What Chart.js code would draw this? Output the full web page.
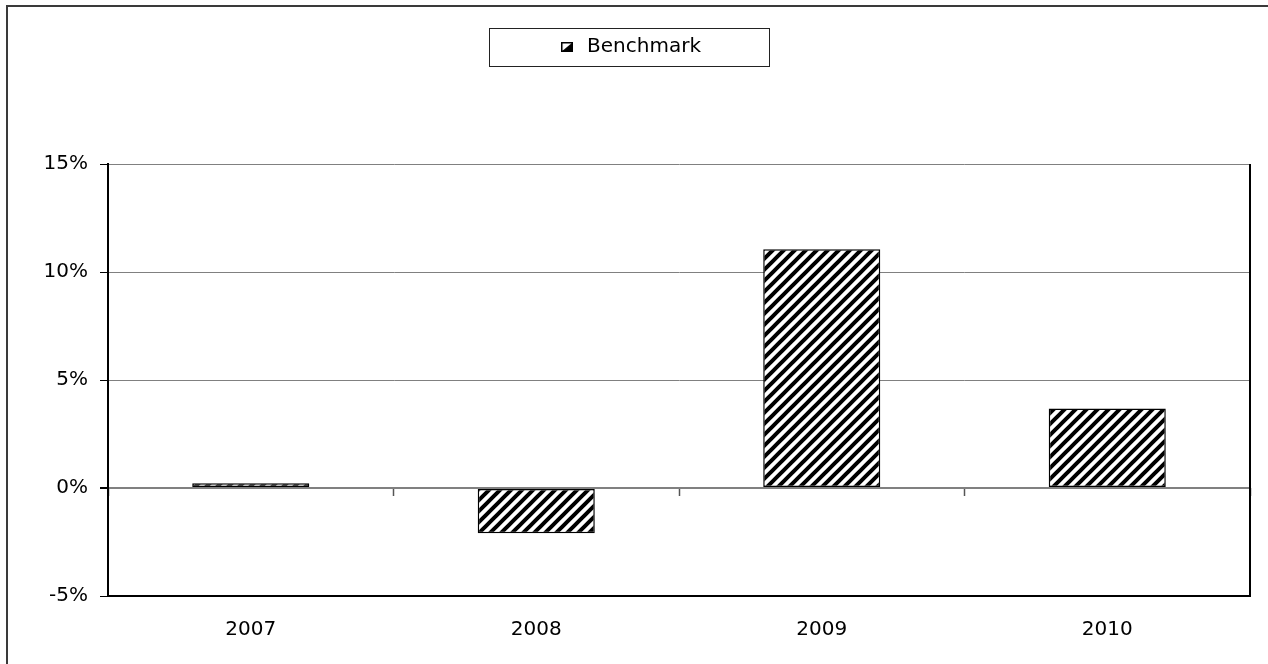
<!DOCTYPE html>
<html>
<head>
<meta charset="utf-8">
<title>Benchmark</title>
<script src="https://cdn.jsdelivr.net/npm/chart.js@4.4.1/dist/chart.umd.min.js"></script>
<style>
  html, body { margin: 0; padding: 0; background: #fff; }
  #wrap { width: 1268px; height: 664px; position: relative; }
</style>
</head>
<body>
<div id="wrap"><canvas id="benchChart"></canvas></div>
<script>
// data
var years = ['2007', '2008', '2009', '2010'];
var benchmark = [0.22, -2.1, 11.05, 3.68];
var yTicks = [-5, 0, 5, 10, 15];

// hatch fill, wide upward diagonal
function makeHatch() {
    var s = 11;
    var c = document.createElement('canvas');
    c.width = s; c.height = s;
    var g = c.getContext('2d');
    g.fillStyle = '#fff';
    g.fillRect(0, 0, s, s);
    g.strokeStyle = '#000';
    g.lineWidth = 4;
    g.beginPath();
    g.moveTo(-s, s); g.lineTo(s, -s);
    g.moveTo(0, s * 2); g.lineTo(s * 2, 0);
    g.moveTo(-1, s + 1); g.lineTo(s + 1, -1);
    g.stroke();
    return g.createPattern(c, 'repeat');
}

// little legend swatch: box with the lower right half black
function makeSwatch() {
    var c = document.createElement('canvas');
    c.width = 12; c.height = 10;
    var g = c.getContext('2d');
    g.fillStyle = '#fff';
    g.fillRect(0, 0, 12, 10);
    g.fillStyle = '#000';
    g.beginPath();
    g.moveTo(0, 10); g.lineTo(12, 0); g.lineTo(12, 10); g.closePath();
    g.fill();
    g.strokeStyle = '#000';
    g.lineWidth = 1.5;
    g.strokeRect(0.75, 0.75, 10.5, 8.5);
    return c;
}

var swatch = makeSwatch();

// extra room under the legend, frame round the legend, plot frame and outer frame
var framePlugin = {
    id: 'framePlugin',
    beforeInit: function(chart) {
        var fit = chart.legend.fit;
        chart.legend.fit = function() {
            fit.call(this);
            this.height += 97;
        };
    },
    afterDraw: function(chart) {
        var ctx = chart.ctx;
        var a = chart.chartArea;
        ctx.save();
        // outer border of the picture
        ctx.strokeStyle = '#3a3a3a';
        ctx.lineWidth = 2;
        ctx.beginPath();
        ctx.moveTo(7, chart.height);
        ctx.lineTo(7, 6);
        ctx.lineTo(chart.width, 6);
        ctx.stroke();
        // plot frame
        ctx.strokeStyle = '#000';
        ctx.lineWidth = 2;
        ctx.beginPath();
        ctx.moveTo(a.left, a.top);
        ctx.lineTo(a.left, a.bottom);
        ctx.lineTo(a.right, a.bottom);
        ctx.lineTo(a.right, a.top);
        ctx.stroke();
        // legend box
        var hb = chart.legend.legendHitBoxes[0];
        if (hb) {
            var cx = hb.left + hb.width / 2;
            var cy = hb.top + hb.height / 2;
            ctx.strokeStyle = '#222';
            ctx.lineWidth = 1;
            ctx.strokeRect(Math.round(cx - 140) + 0.5, Math.round(cy - 19) + 0.5, 280, 38);
        }
        ctx.restore();
    }
};

var font = { family: '"DejaVu Sans", "Liberation Sans", Arial, sans-serif', size: 20 };

const ctx = document.getElementById('benchChart').getContext('2d');
new Chart(ctx, {
    type: 'bar',
    data: {
        labels: years,
        datasets: [{
            label: 'Benchmark',
            data: benchmark,
            backgroundColor: makeHatch(),
            borderColor: '#000',
            borderWidth: 1.5,
            borderSkipped: false,
            categoryPercentage: 1,
            barPercentage: 0.41,
            pointStyle: swatch
        }]
    },
    options: {
        responsive: true,
        maintainAspectRatio: false,
        animation: false,
        layout: { padding: { top: 31, left: 8, right: 18, bottom: 8 } },
        plugins: {
            tooltip: { enabled: false },
            legend: {
                position: 'top',
                labels: {
                    usePointStyle: true,
                    color: '#000',
                    font: font,
                    padding: 6
                }
            }
        },
        scales: {
            x: {
                grid: { display: false },
                border: { display: true, color: '#000', width: 2 },
                ticks: { color: '#000', font: font, padding: 14, maxRotation: 0 }
            },
            x2: {
                type: 'category',
                labels: years,
                position: { y: 0 },
                offset: true,
                grid: {
                    offset: true,
                    drawOnChartArea: false,
                    tickLength: 8,
                    tickColor: '#555',
                    tickWidth: 1.5
                },
                ticks: { display: false },
                border: { display: false }
            },
            y: {
                min: -5,
                max: 15,
                afterFit: function(scale) { scale.width = 100; },
                afterBuildTicks: function(scale) {
                    scale.ticks = yTicks.map(function(v) { return { value: v }; });
                },
                grid: {
                    color: '#808080',
                    lineWidth: function(c) { return c.tick && c.tick.value === 0 ? 2 : 1; },
                    tickColor: '#000',
                    tickLength: 8
                },
                border: { display: true, color: '#000', width: 2 },
                ticks: {
                    color: '#000',
                    font: font,
                    padding: 12,
                    callback: function(v) { return v + '%'; }
                }
            }
        }
    },
    plugins: [framePlugin]
});
</script>
</body>
</html>
